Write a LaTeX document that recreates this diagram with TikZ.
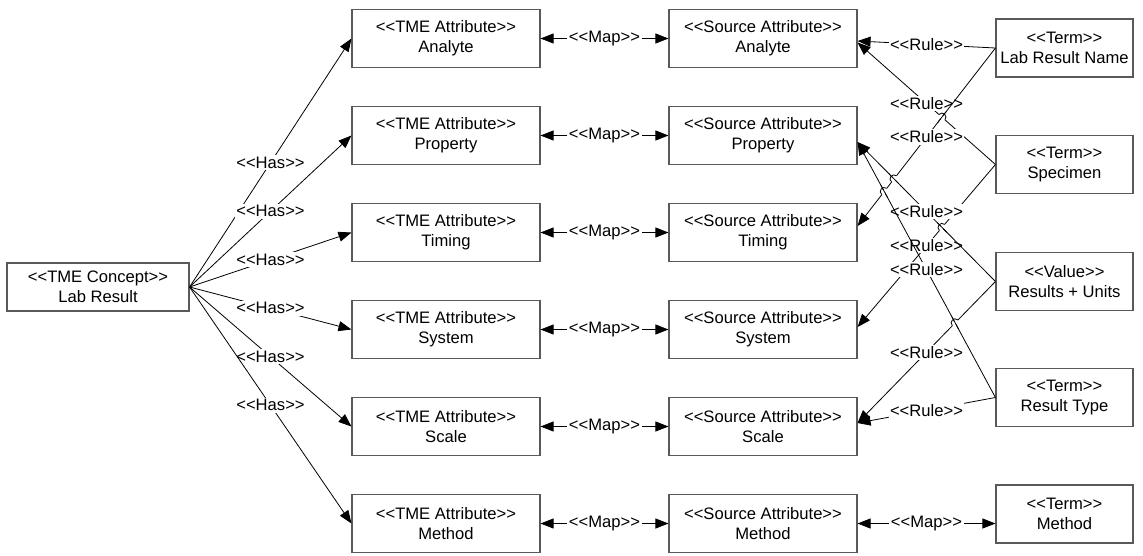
\documentclass[tikz,border=0pt]{standalone}
\usepackage{fontspec}
\setmainfont{Liberation Sans}
\usetikzlibrary{arrows.meta,calc,intersections}
% stereotype label: braces keep << and >> from turning into guillemets
\newcommand\stname[1]{<{}<#1>{}>}
% line jump: #1 crossing, #2/#3 ends of the jumping line, #4/#5 ends of the crossed line
\newcommand\hopmark[5]{%
  \draw[white, line width=3pt] ($(#1)!4pt!(#2)$) -- ($(#1)!4pt!(#3)$);
  \draw[conn] ($(#1)!7pt!(#4)$) -- ($(#1)!7pt!(#5)$);
  \draw[conn] ($(#1)!4pt!(#3)$) to[bend left=90, looseness=1.7] ($(#1)!4pt!(#2)$);}
\begin{document}
\begin{tikzpicture}[x=1pt,y=-1pt,
  txt/.style={font=\fontsize{16.6}{20}\selectfont},
  box/.style={txt, draw=black!65, line width=1.1pt, fill=white, align=center,
    inner sep=0pt, minimum width=188pt, minimum height=58pt},
  termbox/.style={box, minimum width=137pt},
  conn/.style={line width=0.8pt, draw=black},
  oneway/.style={conn, -{Triangle[length=13pt,width=10pt]}},
  twoway/.style={conn, {Triangle[length=13pt,width=10pt]}-{Triangle[length=13pt,width=10pt]}},
  lbl/.style={txt, fill=white, inner sep=1.5pt}]

\useasboundingbox (0,0) rectangle (1143,555);

% concept
\node[box, minimum width=182pt, minimum height=48pt] (lab) at (98,287) {\stname{TME Concept}\\Lab Result};

% TME attributes
\node[box] (tAna) at (446,38.5)  {\stname{TME Attribute}\\Analyte};
\node[box] (tPro) at (446,135.5) {\stname{TME Attribute}\\Property};
\node[box] (tTim) at (446,232.5) {\stname{TME Attribute}\\Timing};
\node[box] (tSys) at (446,329.5) {\stname{TME Attribute}\\System};
\node[box] (tSca) at (446,426.5) {\stname{TME Attribute}\\Scale};
\node[box] (tMet) at (446,523.5) {\stname{TME Attribute}\\Method};

% source attributes
\node[box] (sAna) at (763,38.5)  {\stname{Source Attribute}\\Analyte};
\node[box] (sPro) at (763,135.5) {\stname{Source Attribute}\\Property};
\node[box] (sTim) at (763,232.5) {\stname{Source Attribute}\\Timing};
\node[box] (sSys) at (763,329.5) {\stname{Source Attribute}\\System};
\node[box] (sSca) at (763,426.5) {\stname{Source Attribute}\\Scale};
\node[box] (sMet) at (763,523.5) {\stname{Source Attribute}\\Method};

% terms and values
\node[termbox] (lrn)  at (1064.5,48)    {\stname{Term}\\Lab Result Name};
\node[termbox] (spec) at (1064.5,164.5) {\stname{Term}\\Specimen};
\node[termbox] (ru)   at (1064.5,281.5) {\stname{Value}\\Results + Units};
\node[termbox] (rt)   at (1064.5,397.5) {\stname{Term}\\Result Type};
\node[termbox] (mth)  at (1064.5,514)   {\stname{Term}\\Method};

% glue points on the right side of the source attributes
\coordinate (eAna1) at ([yshift=-2.5pt]sAna.east);
\coordinate (eAna2) at ([yshift=-4pt]sAna.east);
\coordinate (ePro)  at ([yshift=-6.5pt]sPro.east);
\coordinate (eTim)  at ([yshift=6.5pt]sTim.east);
\coordinate (eSys)  at ([yshift=2.5pt]sSys.east);
\coordinate (eSca)  at ([yshift=3.5pt]sSca.east);

% concept has attributes
\foreach \t in {tAna,tPro,tTim,tSys,tSca,tMet}
  \draw[oneway] (lab.east) -- (\t.west) node[lbl, midway] {\stname{Has}};

% TME attribute <-> source attribute
\foreach \a/\b in {tAna/sAna,tPro/sPro,tTim/sTim,tSys/sSys,tSca/sSca,tMet/sMet}
  \draw[twoway] (\a.east) -- (\b.west) node[lbl, midway] {\stname{Map}};

% rules from terms and values to source attributes
\draw[oneway] (lrn.west) -- (eAna1) node[lbl, midway] {\stname{Rule}};
\draw[oneway, name path=rSA] (spec.west) -- (eAna2) node[lbl, midway] {\stname{Rule}};
\draw[oneway, name path=rLT] (lrn.west)  -- (eTim)  node[lbl, midway] {\stname{Rule}};
\draw[oneway, name path=rSS] (spec.west) -- (eSys)  node[lbl, midway] {\stname{Rule}};
\draw[oneway, name path=rRP] (ru.west)   -- (ePro)  node[lbl, midway] {\stname{Rule}};
\draw[oneway, name path=rTP] (rt.west)   -- (ePro)  node[lbl, midway] {\stname{Rule}};
\draw[oneway, name path=rRS] (ru.west)   -- (eSca)  node[lbl, midway] {\stname{Rule}};
\draw[oneway] (rt.west) -- (eSca) node[lbl, midway] {\stname{Rule}};

% line jumps where the rules cross
\path[name intersections={of=rSA and rLT, by=x1}];
\path[name intersections={of=rLT and rRP, by=x2}];
\path[name intersections={of=rLT and rTP, by=x3}];
\path[name intersections={of=rSS and rRP, by=x4}];
\path[name intersections={of=rRS and rTP, by=x5}];
\hopmark{x1}{spec.west}{eAna2}{lrn.west}{eTim}
\hopmark{x2}{lrn.west}{eTim}{ru.west}{ePro}
\hopmark{x3}{lrn.west}{eTim}{rt.west}{ePro}
\hopmark{x4}{spec.west}{eSys}{ru.west}{ePro}
\hopmark{x5}{ru.west}{eSca}{rt.west}{ePro}

% method source <-> method term
\draw[twoway] (sMet.east) -- (sMet.east -| mth.west) node[lbl, midway] {\stname{Map}};
\end{tikzpicture}
\end{document}
